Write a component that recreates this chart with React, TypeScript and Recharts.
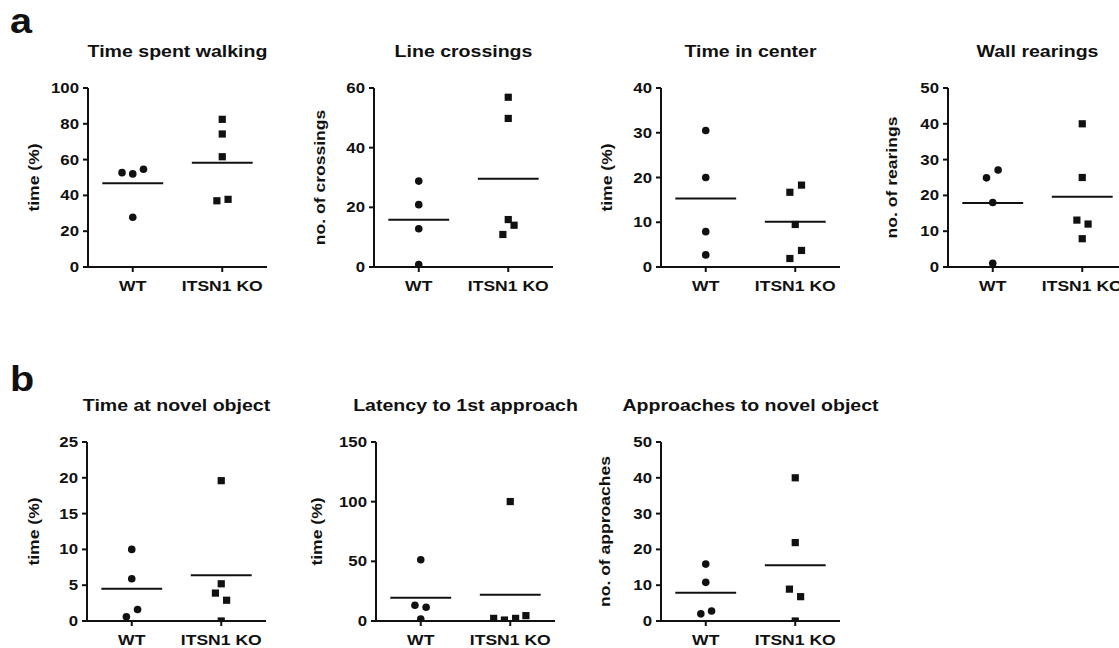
import React from "react";
import { ScatterChart, Scatter, XAxis, YAxis, ReferenceLine } from "recharts";

const GROUPS = ["WT", "ITSN1 KO"];

// a – Time spent walking
const walkWT = [52.7, 52.0, 54.6, 27.8];
const walkWTx = [-0.24, 0, 0.24, 0];
const walkKO = [82.5, 74.3, 61.6, 37.0, 37.8];
const walkKOx = [0, 0, 0, -0.12, 0.13];
const walkMeans = [46.8, 58.3];
const walkTicks = [0, 20, 40, 60, 80, 100];

// a – Line crossings
const crossWT = [28.8, 20.9, 12.8, 0.8];
const crossWTx = [0, 0, 0, 0];
const crossKO = [56.9, 49.8, 15.9, 14.0, 10.9];
const crossKOx = [0, 0, 0, 0.13, -0.12];
const crossMeans = [15.8, 29.6];
const crossTicks = [0, 20, 40, 60];

// a – Time in center
const centerWT = [30.5, 20.0, 7.9, 2.7];
const centerWTx = [0, 0, 0, 0];
const centerKO = [16.7, 18.3, 9.5, 3.7, 1.9];
const centerKOx = [-0.12, 0.14, 0, 0.14, -0.12];
const centerMeans = [15.3, 10.1];
const centerTicks = [0, 10, 20, 30, 40];

// a – Wall rearings
const rearWT = [24.9, 27.1, 18.0, 1.0];
const rearWTx = [-0.14, 0.12, 0, 0];
const rearKO = [40.0, 25.0, 13.1, 12.0, 7.9];
const rearKOx = [0, 0, -0.12, 0.13, 0];
const rearMeans = [17.9, 19.6];
const rearTicks = [0, 10, 20, 30, 40, 50];

// b – Time at novel object
const novelWT = [10.0, 5.9, 1.6, 0.6];
const novelWTx = [0, 0, 0.13, -0.12];
const novelKO = [19.6, 5.2, 3.9, 2.9, 0];
const novelKOx = [0, 0, -0.13, 0.12, 0];
const novelMeans = [4.5, 6.4];
const novelTicks = [0, 5, 10, 15, 20, 25];

// b – Latency to 1st approach
const latWT = [51.3, 13.2, 11.5, 1.7];
const latWTx = [0, -0.13, 0.12, 0];
const latKO = [100.1, 2.2, 0.8, 2.2, 4.5];
const latKOx = [0, -0.37, -0.13, 0.12, 0.35];
const latMeans = [19.4, 21.9];
const latTicks = [0, 50, 100, 150];

// b – Approaches to novel object
const apprWT = [15.9, 10.8, 2.0, 2.8];
const apprWTx = [0, 0, -0.11, 0.13];
const apprKO = [40.0, 21.9, 8.9, 6.8, 0];
const apprKOx = [0, 0, -0.13, 0.12, 0];
const apprMeans = [7.9, 15.6];
const apprTicks = [0, 10, 20, 30, 40, 50];

const FONT = "'Liberation Sans', Arial, Helvetica, sans-serif";
const INK = "#111";
const PLOT_W = 179;
const PLOT_H = 179;
const MEAN_HALF = 0.68;

const panels = [
  { title: "Time spent walking", ylabel: "time (%)", wt: walkWT, wtX: walkWTx, ko: walkKO, koX: walkKOx, means: walkMeans, ticks: walkTicks, left: 88, top: 88, labelX: 39 },
  { title: "Line crossings", ylabel: "no. of crossings", wt: crossWT, wtX: crossWTx, ko: crossKO, koX: crossKOx, means: crossMeans, ticks: crossTicks, left: 374, top: 88, labelX: 325 },
  { title: "Time in center", ylabel: "time (%)", wt: centerWT, wtX: centerWTx, ko: centerKO, koX: centerKOx, means: centerMeans, ticks: centerTicks, left: 661, top: 88, labelX: 612 },
  { title: "Wall rearings", ylabel: "no. of rearings", wt: rearWT, wtX: rearWTx, ko: rearKO, koX: rearKOx, means: rearMeans, ticks: rearTicks, left: 948, top: 88, labelX: 897 },
  { title: "Time at novel object", ylabel: "time (%)", wt: novelWT, wtX: novelWTx, ko: novelKO, koX: novelKOx, means: novelMeans, ticks: novelTicks, left: 87, top: 442, labelX: 39 },
  { title: "Latency to 1st approach", ylabel: "time (%)", wt: latWT, wtX: latWTx, ko: latKO, koX: latKOx, means: latMeans, ticks: latTicks, left: 376, top: 442, labelX: 322 },
  { title: "Approaches to novel object", ylabel: "no. of approaches", wt: apprWT, wtX: apprWTx, ko: apprKO, koX: apprKOx, means: apprMeans, ticks: apprTicks, left: 661, top: 442, labelX: 610 },
];

const axisStyle = { stroke: INK, strokeWidth: 2 };

function YTick(props: any) {
  const { x, y, payload } = props;
  return (
    <text
      transform={`translate(${x},${y}) scale(1.2,1)`}
      dy="0.36em"
      textAnchor="end"
      fontFamily={FONT}
      fontWeight="bold"
      fontSize={14}
      fill={INK}
    >
      {payload.value}
    </text>
  );
}

function XTick(props: any) {
  const { x, y, payload } = props;
  const label = GROUPS[Math.round((payload.value - 1) / 2)];
  return (
    <text
      transform={`translate(${x},${y + 19}) scale(1.17,1)`}
      textAnchor="middle"
      fontFamily={FONT}
      fontWeight="bold"
      fontSize={15}
      fill={INK}
    >
      {label}
    </text>
  );
}

const Dot = (props: any) => <circle cx={props.cx} cy={props.cy} r={3.8} fill={INK} />;
const Box = (props: any) => (
  <rect x={props.cx - 3.6} y={props.cy - 3.6} width={7.2} height={7.2} fill={INK} />
);

function Panel({ p }: { p: (typeof panels)[number] }) {
  const wt = p.wt.map((v, i) => ({ x: 1 + p.wtX[i], y: v }));
  const ko = p.ko.map((v, i) => ({ x: 3 + p.koX[i], y: v }));
  const ymax = p.ticks[p.ticks.length - 1];
  return (
    <div style={{ position: "absolute", left: p.left - 100, top: p.top - 10 }}>
      <ScatterChart
        width={100 + PLOT_W + 12}
        height={10 + PLOT_H + 40}
        margin={{ top: 10, right: 12, left: 0, bottom: 0 }}
      >
        <XAxis
          type="number"
          dataKey="x"
          domain={[0, 4]}
          ticks={[1, 3]}
          interval={0}
          height={40}
          tickSize={5}
          tickMargin={0}
          axisLine={axisStyle}
          tickLine={axisStyle}
          tick={<XTick />}
          allowDataOverflow
        />
        <YAxis
          type="number"
          dataKey="y"
          domain={[0, ymax]}
          ticks={p.ticks}
          interval={0}
          width={100}
          tickSize={5}
          tickMargin={4}
          axisLine={axisStyle}
          tickLine={axisStyle}
          tick={<YTick />}
          allowDataOverflow
        />
        {p.means.map((m, i) => (
          <ReferenceLine
            key={i}
            segment={[
              { x: 1 + 2 * i - MEAN_HALF, y: m },
              { x: 1 + 2 * i + MEAN_HALF, y: m },
            ]}
            stroke={INK}
            strokeWidth={2}
            ifOverflow="visible"
          />
        ))}
        <Scatter data={wt} shape={Dot} isAnimationActive={false} />
        <Scatter data={ko} shape={Box} isAnimationActive={false} />
      </ScatterChart>
    </div>
  );
}

export default function App() {
  return (
    <div
      style={{
        position: "fixed",
        left: 0,
        top: 0,
        width: 1119,
        height: 648,
        overflow: "hidden",
        background: "#fff",
      }}
    >
      {panels.map((p, i) => (
        <Panel key={i} p={p} />
      ))}
      <svg
        width={1119}
        height={648}
        style={{ position: "absolute", left: 0, top: 0, pointerEvents: "none" }}
      >
        <text transform="translate(10,33) scale(1.1,1)" fontFamily={FONT} fontWeight="bold" fontSize={36} fill={INK}>
          a
        </text>
        <text transform="translate(10,391) scale(1.1,1)" fontFamily={FONT} fontWeight="bold" fontSize={36} fill={INK}>
          b
        </text>
        {panels.map((p, i) => (
          <g key={i}>
            <text
              transform={`translate(${p.left + PLOT_W / 2},${p.top < 200 ? 57 : 411}) scale(1.15,1)`}
              textAnchor="middle"
              fontFamily={FONT}
              fontWeight="bold"
              fontSize={17}
              fill={INK}
            >
              {p.title}
            </text>
            <text
              transform={`translate(${p.labelX},${p.top + PLOT_H / 2}) rotate(-90) scale(1.17,1)`}
              textAnchor="middle"
              fontFamily={FONT}
              fontWeight="bold"
              fontSize={15}
              fill={INK}
            >
              {p.ylabel}
            </text>
          </g>
        ))}
      </svg>
    </div>
  );
}
